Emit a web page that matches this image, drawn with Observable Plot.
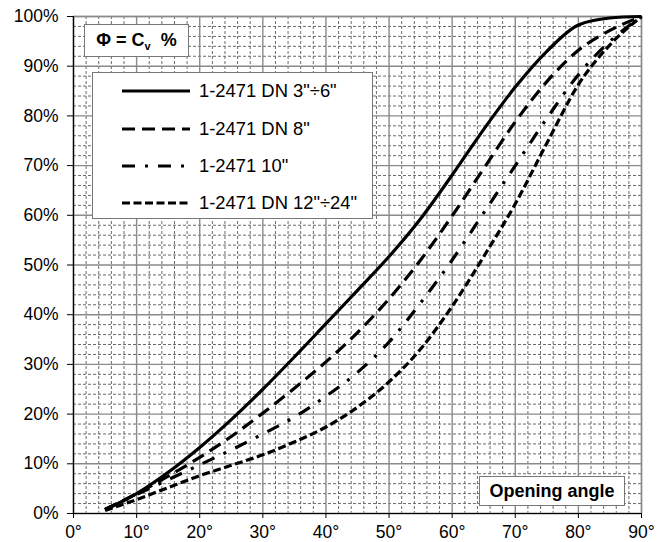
<!DOCTYPE html>
<html>
<head>
<meta charset="utf-8">
<script src="https://cdn.jsdelivr.net/npm/d3@7"></script>
<script src="https://cdn.jsdelivr.net/npm/@observablehq/plot@0.6"></script>
<style>
  html, body { margin: 0; padding: 0; background: #fff; }
  #wrap { position: relative; width: 667px; height: 542px; font-family: "Liberation Sans", Arial, sans-serif; }
  .box { position: absolute; background: #fff; border: 1px solid #777; box-sizing: border-box; }
  .lbl { font-weight: bold; font-size: 18px; color: #000; display: flex; align-items: center; justify-content: center; }
</style>
</head>
<body>
<div id="wrap"></div>
<script>
// Opening angle (degrees)
const angles = [5,10,15,20,25,30,35,40,45,50,55,60,65,70,75,80,85,90];
// Cv % per series
const dn3to6   = [0.8,4.0,8.3,13.3,18.9,25.0,31.5,38.2,44.9,51.7,59.3,68.1,77.3,85.8,93.0,98.3,99.7,100];
const dn8      = [0.8,4.0,7.5,11.3,15.5,20.2,25.2,30.5,36.4,43.2,51.0,59.9,69.4,78.8,86.9,93.2,97.2,100];
const dn10     = [0.8,3.8,6.8,9.8,12.8,16.0,19.4,23.6,28.4,34.5,42.4,51.0,60.5,70.0,79.5,88.3,95.0,100];
const dn12to24 = [0.6,2.8,5.2,7.6,9.7,11.8,14.4,17.4,21.4,26.5,33.1,41.7,51.7,62.3,74.5,86.3,94.3,100];

const seriesNames = ['1-2471 DN 3"÷6"', '1-2471 DN 8"', '1-2471 10"', '1-2471 DN 12"÷24"'];
const seriesValues = [dn3to6, dn8, dn10, dn12to24];
const dashes = [null, "13,7", "13,10,3,10", "8,3.5"];

const xMajor = d3.range(0, 91, 10);
const yMajor = d3.range(0, 101, 10);
const xMinor = d3.range(0, 91, 2).filter(d => d % 10 !== 0);
const yMinor = d3.range(0, 101, 2).filter(d => d % 10 !== 0);

const lineMarks = seriesValues.map((vals, i) =>
  Plot.line(angles.map((a, j) => ({angle: a, cv: vals[j]})), {
    x: "angle", y: "cv", stroke: "#000", strokeWidth: 3.2,
    strokeDasharray: dashes[i], curve: "monotone-x", strokeLinecap: "butt"
  })
);

const chart = Plot.plot({
  width: 667, height: 542,
  marginLeft: 73, marginRight: 26, marginTop: 16, marginBottom: 29,
  style: { fontFamily: '"Liberation Sans", Arial, sans-serif', fontSize: "17.5px", color: "#000", background: "#fff" },
  x: { domain: [0, 90], label: null },
  y: { domain: [0, 100], label: null },
  marks: [
    Plot.gridX(xMinor, { stroke: "#6a6a6a", strokeOpacity: 1, strokeDasharray: "3,2", strokeWidth: 1 }),
    Plot.gridY(yMinor, { stroke: "#6a6a6a", strokeOpacity: 1, strokeDasharray: "3,2", strokeWidth: 1 }),
    Plot.gridX(xMajor, { stroke: "#8a8a8a", strokeOpacity: 1, strokeWidth: 1.4 }),
    Plot.gridY(yMajor, { stroke: "#8a8a8a", strokeOpacity: 1, strokeWidth: 1.4 }),
    Plot.frame({ stroke: "#8a8a8a", strokeWidth: 1.4 }),
    Plot.ruleX([0], { stroke: "#000", strokeWidth: 1.2 }),
    Plot.ruleY([0], { stroke: "#000", strokeWidth: 1.2 }),
    Plot.axisX(xMajor, { tickFormat: d => d + "°", tickSize: 5, tickPadding: 7, stroke: "#000", fontSize: 17.5 }),
    Plot.axisY(yMajor, { tickFormat: d => d + "%", tickSize: 6, tickPadding: 9, stroke: "#000", fontSize: 17.5 }),
    ...lineMarks
  ]
});

const wrap = document.getElementById("wrap");
wrap.appendChild(chart);

// Formula box
const f = document.createElement("div");
f.className = "box lbl";
Object.assign(f.style, { left: "84px", top: "24px", width: "105px", height: "33px" });
f.innerHTML = 'Φ = C<span style="font-size:11px;position:relative;top:5px;">v</span>&nbsp;&nbsp;%';
wrap.appendChild(f);

// Opening angle box
const o = document.createElement("div");
o.className = "box lbl";
Object.assign(o.style, { left: "479px", top: "476px", width: "146px", height: "30px" });
o.textContent = "Opening angle";
wrap.appendChild(o);

// Legend
const lg = document.createElement("div");
lg.className = "box";
Object.assign(lg.style, { left: "92px", top: "72px", width: "281px", height: "147px" });
const ns = "http://www.w3.org/2000/svg";
const svg = document.createElementNS(ns, "svg");
svg.setAttribute("width", 279); svg.setAttribute("height", 145);
const rowY = [18, 56, 93, 130];
seriesNames.forEach((name, i) => {
  const ln = document.createElementNS(ns, "line");
  ln.setAttribute("x1", 29); ln.setAttribute("x2", 97);
  ln.setAttribute("y1", rowY[i]); ln.setAttribute("y2", rowY[i]);
  ln.setAttribute("stroke", "#000"); ln.setAttribute("stroke-width", 3.2);
  if (dashes[i]) ln.setAttribute("stroke-dasharray", dashes[i]);
  svg.appendChild(ln);
  const t = document.createElementNS(ns, "text");
  t.setAttribute("x", 106); t.setAttribute("y", rowY[i]);
  t.setAttribute("dy", "0.35em");
  t.setAttribute("font-size", 18.4);
  t.setAttribute("font-family", '"Liberation Sans", Arial, sans-serif');
  t.textContent = name;
  svg.appendChild(t);
});
lg.appendChild(svg);
wrap.appendChild(lg);
</script>
</body>
</html>
